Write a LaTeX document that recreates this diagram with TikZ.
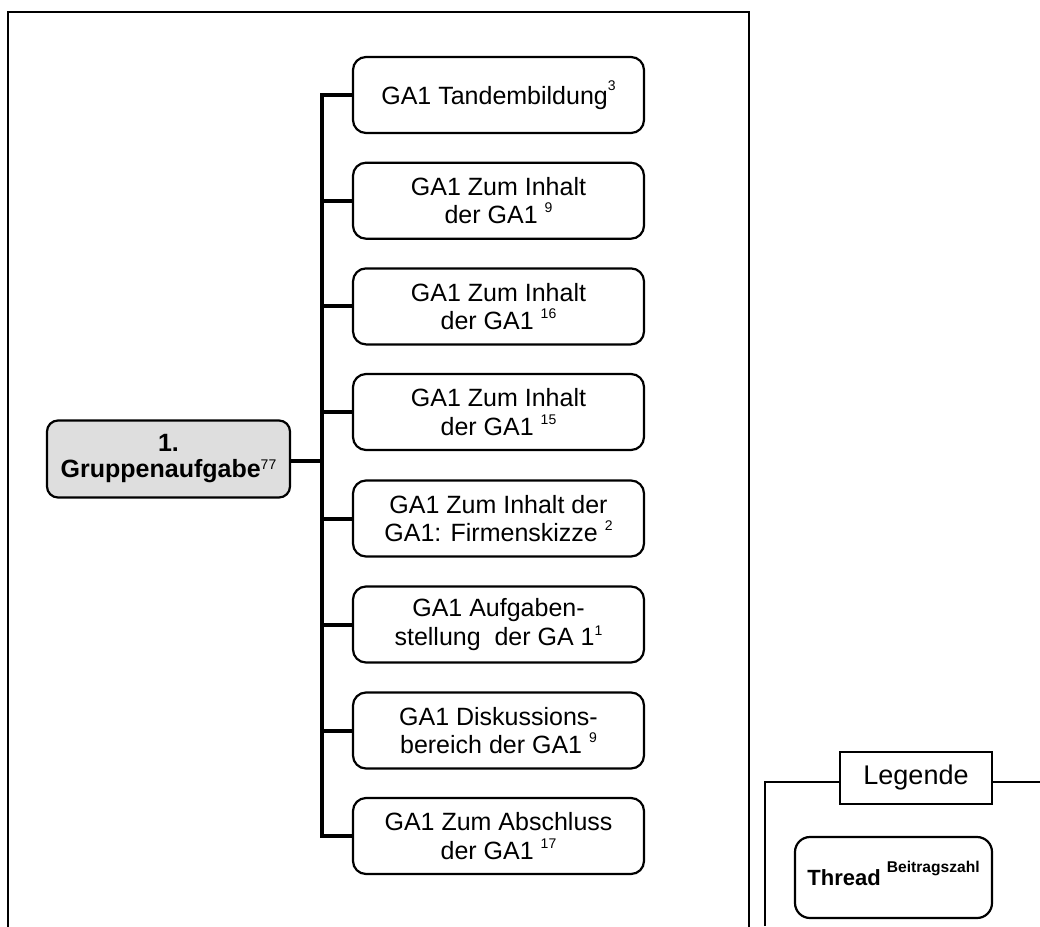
\documentclass[tikz,border=0pt]{standalone}
\usepackage{fontspec}
\setmainfont{Liberation Sans}
% raised post count after a thread title
\newcommand\postcount[2][11pt]{\raisebox{#1}{\fontsize{14}{14}\selectfont\mdseries #2}}
\begin{document}
\begin{tikzpicture}[x=1pt,y=-1pt,
  frameline/.style={line width=2.5pt, line cap=rect},
  legline/.style={line width=2pt},
  bus/.style={line width=4pt},
  thread/.style={draw=black, line width=2.2pt, rounded corners=13pt,
    minimum width=291pt, minimum height=76pt, inner sep=0pt, align=center,
    font=\fontsize{25}{28.5}\selectfont},
  rootbox/.style={draw=black, fill=black!13, line width=2.2pt, rounded corners=11pt,
    minimum width=243pt, minimum height=77pt, inner sep=0pt, align=center,
    font=\fontsize{25}{26}\selectfont\bfseries},
  legbox/.style={draw=black, line width=2pt, minimum width=152pt, minimum height=52pt,
    inner sep=0pt, font=\fontsize{27}{29}\selectfont},
  samplebox/.style={draw=black, line width=2.2pt, rounded corners=15pt,
    minimum width=197pt, minimum height=81pt, inner sep=0pt,
    font=\fontsize{22}{24}\selectfont\bfseries}
]
\useasboundingbox (0,0) rectangle (1040,926);

% outer frame, open at the bottom
\draw[frameline] (8,926) -- (8,12) -- (749,12) -- (749,926);

% root thread
\node[rootbox] (r) at (168.5,459) {1.\\Gruppenaufgabe\postcount[8pt]{77}};

% sub-threads
\node[thread] (t1) at (498.5,95)  {GA1 Tandembildung\postcount[14pt]{3}};
\node[thread] (t2) at (498.5,200.7) {GA1 Zum Inhalt\\der GA1 \postcount{9}};
\node[thread] (t3) at (498.5,306.4) {GA1 Zum Inhalt\\der GA1 \postcount{16}};
\node[thread] (t4) at (498.5,412)  {GA1 Zum Inhalt\\der GA1 \postcount{15}};
\node[thread] (t5) at (498.5,518.5) {GA1 Zum Inhalt der\\GA1: Firmenskizze \postcount{2}};
\node[thread] (t6) at (498.5,624.5) {GA1 Aufgaben-\\stellung\ \ der GA 1\postcount[10pt]{1}};
\node[thread] (t7) at (498.5,730.5) {GA1 Diskussions-\\bereich der GA1 \postcount{9}};
\node[thread] (t8) at (498.5,836)  {GA1 Zum Abschluss\\der GA1 \postcount{17}};

% bracket connectors
\coordinate (j) at (322,461);
\draw[bus] (r.east |- j) -- (j);
\draw[bus] (t1.west) -| (j);
\draw[bus] (t8.west) -| (j);
\foreach \k in {2,...,7} {
  \draw[bus] (t\k.west) -- (t\k.west -| j);
}

% legend
\node[legbox] (leg) at (916,777.5) {Legende};
\coordinate (lgl) at (765,782);
\coordinate (lgr) at (1040,782);
\draw[legline] (765,926) -- (lgl) -- (lgl -| leg.west);
\draw[legline] (lgl -| leg.east) -- (lgr);
\node[samplebox] (th) at (893.5,877.5)
  {Thread \smash{\raisebox{13pt}{\fontsize{15.6}{16}\selectfont\bfseries Beitragszahl}}};
\end{tikzpicture}
\end{document}
